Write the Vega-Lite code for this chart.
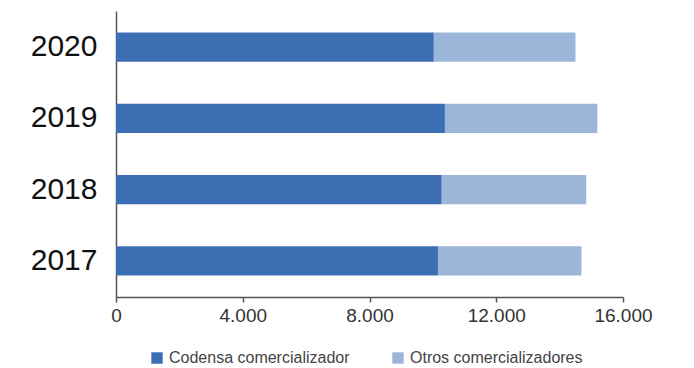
{
  "$schema": "https://vega.github.io/schema/vega-lite/v6.json",
  "width": 507,
  "height": 286,
  "autosize": "none",
  "padding": {"left": 116, "top": 11, "right": 71, "bottom": 71},
  "background": "white",
  "data": {
    "values": [
      {"year": "2020", "serie": "Codensa comercializador", "value": 10030},
      {"year": "2020", "serie": "Otros comercializadores", "value": 4470},
      {"year": "2019", "serie": "Codensa comercializador", "value": 10380},
      {"year": "2019", "serie": "Otros comercializadores", "value": 4810},
      {"year": "2018", "serie": "Codensa comercializador", "value": 10280},
      {"year": "2018", "serie": "Otros comercializadores", "value": 4560},
      {"year": "2017", "serie": "Codensa comercializador", "value": 10160},
      {"year": "2017", "serie": "Otros comercializadores", "value": 4530}
    ]
  },
  "mark": {"type": "bar"},
  "encoding": {
    "y": {
      "field": "year",
      "type": "nominal",
      "sort": "descending",
      "scale": {"paddingInner": 0.587, "paddingOuter": 0.3},
      "axis": {
        "title": null,
        "ticks": false,
        "domainColor": "#555555",
        "domainWidth": 1.5,
        "labelFont": "Liberation Sans",
        "labelFontSize": 30,
        "labelColor": "#111111",
        "labelPadding": 19
      }
    },
    "x": {
      "field": "value",
      "type": "quantitative",
      "stack": "zero",
      "scale": {"domain": [0, 16000], "nice": false},
      "axis": {
        "title": null,
        "values": [0, 4000, 8000, 12000, 16000],
        "grid": false,
        "labelFlush": false,
        "labelExpr": "replace(format(datum.value, ','), ',', '.')",
        "domainColor": "#555555",
        "domainWidth": 1.5,
        "tickColor": "#555555",
        "tickWidth": 1.5,
        "tickSize": 5,
        "labelFont": "Liberation Sans",
        "labelFontSize": 19,
        "labelColor": "#333333",
        "labelPadding": 4
      }
    },
    "color": {
      "field": "serie",
      "type": "nominal",
      "scale": {
        "domain": ["Codensa comercializador", "Otros comercializadores"],
        "range": ["#3c6eb4", "#9cb6da"]
      },
      "legend": {
        "title": null,
        "orient": "none",
        "legendX": 33,
        "legendY": 339,
        "direction": "horizontal",
        "symbolType": "square",
        "symbolSize": 130,
        "symbolStrokeWidth": 0,
        "labelFont": "Liberation Sans",
        "labelFontSize": 16,
        "labelColor": "#444444",
        "labelLimit": 400,
        "columnPadding": 40
      }
    },
    "order": {"field": "serie", "sort": "ascending"}
  },
  "config": {"view": {"stroke": null}}
}
